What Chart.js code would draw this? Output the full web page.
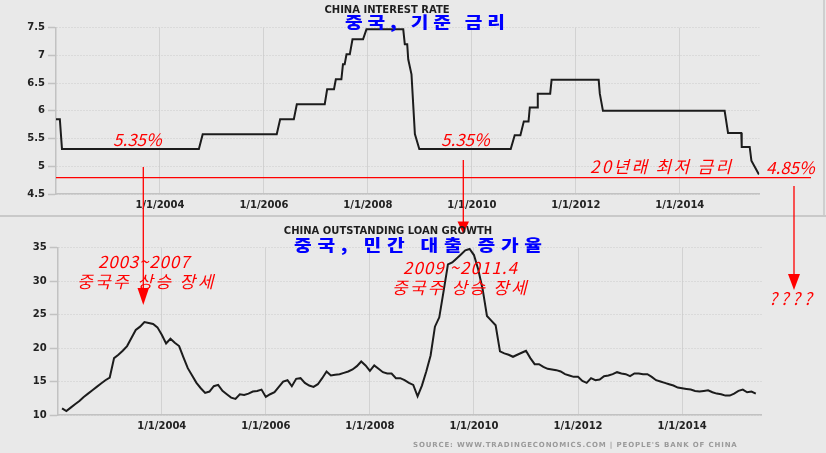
<!DOCTYPE html>
<html>
<head>
<meta charset="utf-8">
<script src="https://cdn.jsdelivr.net/npm/chart.js@4/dist/chart.umd.min.js"></script>
<style>
  html, body { margin: 0; padding: 0; background: #e9e9e9; }
  #wrap { position: relative; width: 826px; height: 453px; overflow: hidden; background: #e9e9e9; }
  canvas { position: absolute; left: 0; }
  .t { position: absolute; white-space: nowrap; line-height: 1; }
  .en { font-family: "DejaVu Sans", sans-serif; font-weight: bold; font-size: 10px; color: #1e1e1e; transform: translate(-50%, -50%); }
  .blue { font-family: "Noto Sans CJK KR", sans-serif; font-weight: 900; font-size: 16px; color: #0000ff; letter-spacing: 4px; transform-origin: 0 50%; transform: translateY(-55%) scaleX(1.2); }
  .red { font-family: "Noto Sans CJK KR", sans-serif; font-weight: 400; font-style: italic; font-size: 17px; color: #ff0000; transform: translateY(-57%); }
  .src { font-family: "DejaVu Sans", sans-serif; font-weight: bold; font-size: 7px; color: #9a9a9a; letter-spacing: 0.85px; transform: translateY(-50%); }
</style>
</head>
<body>
<div id="wrap">
  <canvas id="c1" width="826" height="216" style="top:0"></canvas>
  <canvas id="c2" width="826" height="237" style="top:216px"></canvas>
  <div style="position:absolute;left:0;top:215px;width:826px;height:2px;background:#c9c9c9"></div>
  <div style="position:absolute;left:823px;top:0;width:2px;height:215px;background:#cfcfcf"></div>
  <svg id="ov" width="826" height="453" style="position:absolute;left:0;top:0">
    <line x1="56" y1="177.7" x2="811" y2="177.7" stroke="#ff0000" stroke-width="1.3"/>
    <line x1="143.3" y1="167" x2="143.3" y2="290" stroke="#ff0000" stroke-width="1.3"/>
    <polygon points="137.5,288 149,288 143.3,305" fill="#ff0000"/>
    <line x1="463.3" y1="160" x2="463.3" y2="223" stroke="#ff0000" stroke-width="1.3"/>
    <polygon points="457.5,221.5 469,221.5 463.3,234" fill="#ff0000"/>
    <line x1="794" y1="186" x2="794" y2="276" stroke="#ff0000" stroke-width="1.3"/>
    <polygon points="788,274 800,274 794,290" fill="#ff0000"/>
  </svg>
  <div class="t en" style="left:387px;top:10px">CHINA INTEREST RATE</div>
  <div class="t blue" style="left:345px;top:22px">중국, 기준 금리</div>
  <div class="t en" style="left:388px;top:231px">CHINA OUTSTANDING LOAN GROWTH</div>
  <div class="t blue" style="left:294px;top:245px;letter-spacing:4.8px">중국, 민간 대출 증가율</div>
  <div class="t red" style="left:113px;top:140px">5.35%</div>
  <div class="t red" style="left:441px;top:140px">5.35%</div>
  <div class="t red" style="left:590px;top:167px;letter-spacing:2.3px">20년래 최저 금리</div>
  <div class="t red" style="left:766px;top:168px">4.85%</div>
  <div class="t red" style="left:98px;top:262px;letter-spacing:0.8px">2003~2007</div>
  <div class="t red" style="left:77px;top:282px;letter-spacing:2.4px">중국주 상승 장세</div>
  <div class="t red" style="left:403px;top:268px;letter-spacing:1px">2009 ~2011.4</div>
  <div class="t red" style="left:392px;top:288px;letter-spacing:2.2px">중국주 상승 장세</div>
  <div class="t red" style="left:769px;top:299px;letter-spacing:3.5px">????</div>
  <div class="t src" style="left:413px;top:445px">SOURCE: WWW.TRADINGECONOMICS.COM | PEOPLE'S BANK OF CHINA</div>
</div>
<script>
// ---- China benchmark interest rate (%): vertices of the plotted line ----
const rateDates = [
  '2002-01-01','2002-01-28','2002-02-12','2004-10-01','2004-10-28','2006-04-01','2006-04-25',
  '2006-07-30','2006-08-20','2007-03-04','2007-03-21','2007-05-08','2007-05-21','2007-06-29',
  '2007-07-10','2007-07-22','2007-08-04','2007-08-27','2007-09-15','2007-11-28','2007-12-22',
  '2008-09-06','2008-09-17','2008-10-04','2008-10-11','2008-11-03','2008-11-27','2008-12-28',
  '2010-10-01','2010-10-29','2010-12-08','2011-01-01','2011-02-03','2011-02-12','2011-04-06',
  '2011-04-09','2011-07-05','2011-07-15','2012-06-10','2012-06-18','2012-07-10','2014-11-12',
  '2014-12-06','2015-03-09','2015-03-12','2015-05-07','2015-05-19','2015-07-11'
];
const rateValues = [
  5.85, 5.85, 5.31, 5.31, 5.58, 5.58, 5.85,
  5.85, 6.12, 6.12, 6.39, 6.39, 6.57, 6.57,
  6.84, 6.84, 7.02, 7.02, 7.29, 7.29, 7.47,
  7.47, 7.20, 7.20, 6.93, 6.66, 5.58, 5.31,
  5.31, 5.56, 5.56, 5.81, 5.81, 6.06, 6.06,
  6.31, 6.31, 6.56, 6.56, 6.31, 6.00, 6.00,
  5.60, 5.60, 5.35, 5.35, 5.10, 4.85
];

// ---- China outstanding loan growth (%), monthly, Jan..Dec of each year ----
const loan2002 = [null, 11.0, 10.6, 11.1, 11.6, 12.1, 12.7, 13.2, 13.7, 14.2, 14.7, 15.2];
const loan2003 = [15.6, 18.5, 19.0, 19.6, 20.3, 21.5, 22.7, 23.2, 23.9, 23.75, 23.6, 23.1];
const loan2004 = [22.0, 20.7, 21.4, 20.8, 20.3, 18.6, 17.0, 15.9, 14.8, 14.0, 13.3, 13.5];
const loan2005 = [14.3, 14.5, 13.6, 13.1, 12.6, 12.4, 13.1, 13.0, 13.2, 13.5, 13.6, 13.8];
const loan2006 = [12.7, 13.1, 13.4, 14.2, 15.0, 15.2, 14.3, 15.4, 15.5, 14.8, 14.4, 14.2];
const loan2007 = [14.6, 15.5, 16.5, 15.9, 16.0, 16.1, 16.3, 16.5, 16.8, 17.3, 18.0, 17.4];
const loan2008 = [16.6, 17.4, 16.9, 16.4, 16.2, 16.2, 15.5, 15.5, 15.2, 14.8, 14.5, 12.8];
const loan2009 = [14.4, 16.5, 18.9, 23.2, 24.6, 28.5, 32.5, 32.8, 33.4, 34.0, 34.6, 34.8];
const loan2010 = [33.9, 31.7, 28.8, 24.8, 24.1, 23.4, 19.5, 19.2, 19.0, 18.7, 19.0, 19.3];
const loan2011 = [19.6, 18.5, 17.6, 17.6, 17.2, 16.9, 16.8, 16.7, 16.5, 16.1, 15.9, 15.7];
const loan2012 = [15.7, 15.1, 14.8, 15.5, 15.2, 15.3, 15.8, 15.9, 16.1, 16.4, 16.2, 16.1];
const loan2013 = [15.8, 16.2, 16.2, 16.1, 16.1, 15.7, 15.2, 15.0, 14.8, 14.6, 14.4, 14.1];
const loan2014 = [14.0, 13.9, 13.8, 13.6, 13.5, 13.6, 13.7, 13.4, 13.2, 13.1, 12.9, 12.9];
const loan2015 = [13.2, 13.6, 13.8, 13.4, 13.5, 13.2];

// ---- axis ticks ----
const xTickYears = [2004, 2006, 2008, 2010, 2012, 2014];
const rateTicks = [4.5, 5, 5.5, 6, 6.5, 7, 7.5];
const loanTicks = [10, 15, 20, 25, 30, 35];

function decYear(s) {
  const [y, m, d] = s.split('-').map(Number);
  const a = Date.UTC(y, 0, 1), b = Date.UTC(y + 1, 0, 1);
  return y + (Date.UTC(y, m - 1, d) - a) / (b - a);
}
const ratePoints = rateDates.map((d, i) => ({ x: decYear(d), y: rateValues[i] }));
const loanYears = [
  [2002, loan2002], [2003, loan2003], [2004, loan2004], [2005, loan2005], [2006, loan2006],
  [2007, loan2007], [2008, loan2008], [2009, loan2009], [2010, loan2010], [2011, loan2011],
  [2012, loan2012], [2013, loan2013], [2014, loan2014], [2015, loan2015]
];
const loanPoints = [];
loanYears.forEach(([yr, arr]) => arr.forEach((v, m) => { if (v !== null) loanPoints.push({ x: yr + m / 12, y: v }); }));

const tickFont = { family: 'DejaVu Sans', size: 10, weight: 'bold' };
const X_MIN = 2002, X_MAX = 2015.53;

function makeChart(id, points, yTicks, yMin, yMax, yWidth, xHeight, pad) {
  return new Chart(document.getElementById(id), {
    type: 'line',
    data: { datasets: [{ data: points, borderColor: '#1c1c1c', borderWidth: 2, pointRadius: 0, tension: 0, fill: false }] },
    options: {
      responsive: false, animation: false, events: [],
      layout: { padding: pad },
      plugins: { legend: { display: false }, tooltip: { enabled: false }, title: { display: false } },
      scales: {
        x: {
          type: 'linear', min: X_MIN, max: X_MAX,
          afterBuildTicks: s => { s.ticks = xTickYears.map(v => ({ value: v })); },
          afterFit: s => { s.height = xHeight; },
          ticks: { autoSkip: false, maxRotation: 0, minRotation: 0, padding: 5, color: '#222', font: tickFont,
                   callback: v => '1/1/' + v },
          grid: { color: '#d2d2d2', lineWidth: 1, drawTicks: false },
          border: { color: '#c2c2c2', width: 1.5 }
        },
        y: {
          min: yMin, max: yMax,
          afterBuildTicks: s => { s.ticks = yTicks.map(v => ({ value: v })); },
          afterFit: s => { s.width = yWidth; },
          ticks: { padding: 3, color: '#222', font: tickFont, callback: v => String(v) },
          grid: { color: '#cbcbcb', lineWidth: 1, tickLength: 8, tickColor: '#c2c2c2', tickWidth: 1.5, tickBorderDash: [] },
          border: { color: '#c2c2c2', width: 1.5, dash: [1, 2] }
        }
      }
    }
  });
}

makeChart('c1', ratePoints, rateTicks, 4.5, 7.5, 56, 22, { left: 0, right: 66.7, top: 27.7, bottom: 0 });
makeChart('c2', loanPoints, loanTicks, 10, 35, 57.7, 38, { left: 0, right: 64.3, top: 31.7, bottom: 0 });
</script>
</body>
</html>
